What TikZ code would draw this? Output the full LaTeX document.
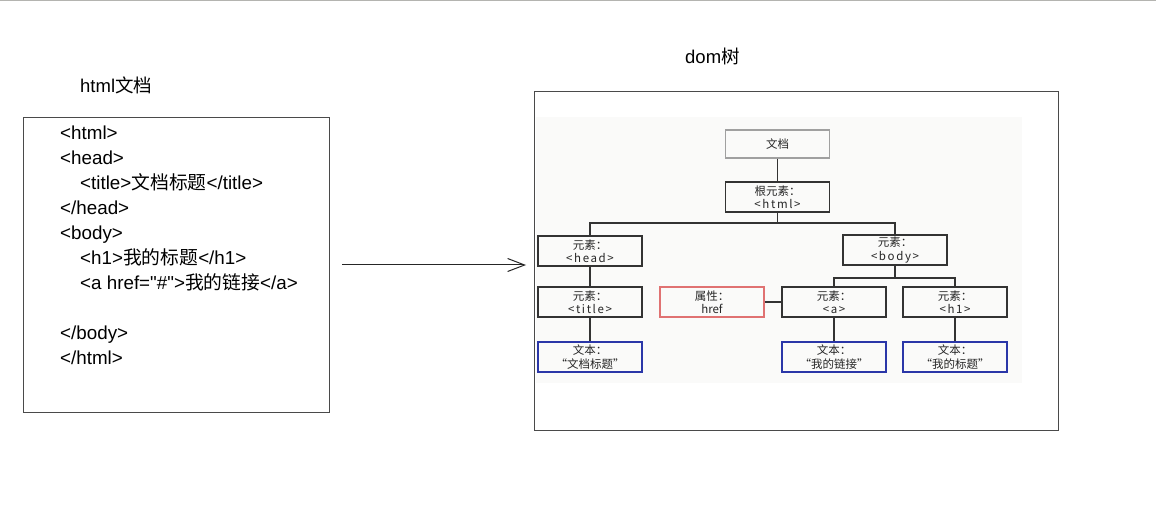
\documentclass[tikz,border=0pt]{standalone}
\usepackage{fontspec}
\setmainfont{Liberation Sans}[Ligatures=TeXOff]
\newfontfamily\zhfont{Noto Sans CJK SC}
\newfontfamily\treelat{Noto Sans CJK SC}[LetterSpace=14]
\newcommand\zh[1]{{\zhfont #1}}
\newcommand\dq{\symbol{34}}
\usetikzlibrary{arrows.meta}

\definecolor{frameline}{HTML}{4A4A4A}
\definecolor{boxline}{HTML}{333333}
\definecolor{docgray}{HTML}{A0A0A0}
\definecolor{attrred}{HTML}{E07272}
\definecolor{textblue}{HTML}{2A36A8}
\definecolor{treebg}{HTML}{FAFAF9}
\definecolor{topline}{HTML}{B4B4B0}

\begin{document}
\begin{tikzpicture}[x=1pt,y=-1pt,
  code/.style={anchor=base west,inner sep=0pt,font=\fontsize{18.8}{21}\selectfont},
  heading/.style={anchor=base west,inner sep=0pt,font=\fontsize{18.5}{21}\selectfont},
  frame/.style={draw=frameline,line width=1pt,inner sep=0pt},
  tbox/.style={draw=boxline,line width=1.3pt,minimum width=104pt,minimum height=30pt,
    inner sep=0pt,align=center,text=black!85,font=\zhfont\fontsize{11.5}{13.5}\selectfont},
  docbox/.style={tbox,draw=docgray,minimum height=28pt},
  attrbox/.style={tbox,draw=attrred},
  txtbox/.style={tbox,draw=textblue},
  conn/.style={draw=boxline,line width=1.3pt},
  bigarrow/.style={draw=black!85,line width=1pt,-{Straight Barb[length=17pt,width=13pt,line width=1pt]}}
]
\useasboundingbox (0,0) rectangle (1156,510);
\fill[white] (0,0) rectangle (1156,510);
\draw[topline,line width=1.5pt] (0,0.75) -- (1156,0.75);

% ---- left: the html source ----
\node[heading] (lefthead) at (80,93) {html\zh{文档}};
\node[frame,minimum width=306pt,minimum height=294pt] (codebox) at (176,265) {};
\node[code] (c1) at (60,140) {<html>};
\node[code] (c2) at (60,165) {<head>};
\node[code] (c3) at (80,190) {<title>\zh{文档标题}</title>};
\node[code] (c4) at (60,215) {</head>};
\node[code] (c5) at (60,240) {<body>};
\node[code] (c6) at (80,265) {<h1>\zh{我的标题}</h1>};
\node[code] (c7) at (80,290) {<a href=\dq\#\dq>\zh{我的链接}</a>};
\node[code] (c8) at (60,340) {</body>};
\node[code] (c9) at (60,364) {</html>};

% ---- arrow between the two panels ----
\coordinate (arrS) at (342,265);
\coordinate (arrE) at (526,265);
\draw[bigarrow] (arrS) -- (arrE);

% ---- right: the dom tree ----
\node[heading] (righthead) at (685,64) {dom\zh{树}};
\node[frame,minimum width=524pt,minimum height=338pt] (treebox) at (796,261) {};
\fill[treebg] (535.5,117) rectangle (1022,383);

\node[docbox] (doc)   at (777.5,144) {文档};
\node[tbox]   (root)  at (777.5,197) {根元素：\\{\treelat <html>}};
\node[tbox]   (head)  at (590,251)   {元素：\\{\treelat <head>}};
\node[tbox]   (body)  at (895,250)   {元素：\\{\treelat <body>}};
\node[tbox]   (title) at (590,302)   {元素：\\{\treelat <title>}};
\node[attrbox](href)  at (712,302)   {属性：\\href};
\node[tbox]   (a)     at (834,302)   {元素：\\{\treelat <a>}};
\node[tbox]   (h1)    at (955,302)   {元素：\\{\treelat <h1>}};
\node[txtbox] (t1)    at (590,357)   {文本：\\“文档标题”};
\node[txtbox] (t2)    at (834,357)   {文本：\\“我的链接”};
\node[txtbox] (t3)    at (955,357)   {文本：\\“我的标题”};

\coordinate (bus1) at (777.5,223);
\coordinate (bus2) at (895,278);
\draw[conn] (doc.south) -- (root.north);
\draw[conn] (root.south) -- (bus1) -| (head.north);
\draw[conn] (bus1) -| (body.north);
\draw[conn] (head.south) -- (title.north);
\draw[conn] (title.south) -- (t1.north);
\draw[conn] (body.south) -- (bus2) -| (a.north);
\draw[conn] (bus2) -| (h1.north);
\draw[conn] (href.east) -- (a.west);
\draw[conn] (a.south) -- (t2.north);
\draw[conn] (h1.south) -- (t3.north);
\end{tikzpicture}
\end{document}
